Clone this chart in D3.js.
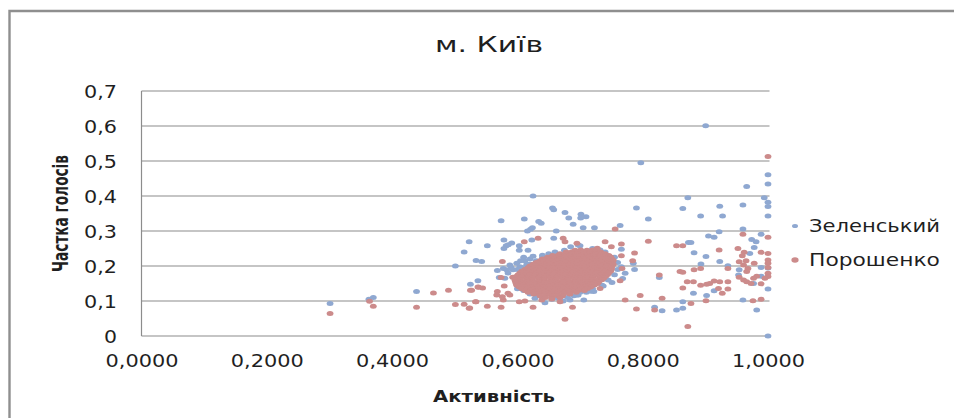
<!DOCTYPE html>
<html><head><meta charset="utf-8"><style>html,body{margin:0;background:#fff}svg{display:block}</style>
<script src="https://cdn.jsdelivr.net/npm/d3@7"></script></head><body><svg width="954" height="418"></svg>
<script>
const titleText = "м. Київ";
const xTitle = "Активність";
const yTitle = "Частка голосів";
const xTicks = [0, 0.2, 0.4, 0.6, 0.8, 1];
const xLabels = ["0,0000","0,2000","0,4000","0,6000","0,8000","1,0000"];
const yTicks = [0, 0.1, 0.2, 0.3, 0.4, 0.5, 0.6, 0.7];
const yLabels = ["0","0,1","0,2","0,3","0,4","0,5","0,6","0,7"];
const seriesNames = ["Зеленський","Порошенко"];

const zelenskyOutliers = [[.9005,.601],[.797,.495],[1,.461],[1,.434],[.966,.427],[.994,.395],[1,.382],[1,.37],[1,.343],[.872,.395],[.864,.364],[.79,.366],[.809,.334],[.8925,.343],[.923,.371],[.9275,.343],[.96,.374],[.96,.306],[.764,.316],[.723,.309],[.705,.309],[.689,.319],[.682,.337],[.676,.353],[.656,.366],[.658,.361],[.7015,.348],[.701,.337],[.7095,.341],[.625,.4],[.611,.334],[.574,.329],[.634,.327],[.638,.322],[.624,.309],[.621,.305],[.616,.3],[.662,.3],[.658,.279],[.623,.274],[.5785,.274],[.591,.266],[.5855,.261],[.582,.258],[.5785,.25],[.552,.258],[.603,.258],[.603,.245],[.617,.245],[.523,.269],[.515,.24],[.534,.216],[.543,.213],[.501,.2],[.525,.148],[.537,.158],[.439,.127],[.37,.11],[.363,.105],[.301,.093],[.64,.231],[.612,.215],[.599,.208],[.588,.203],[.5775,.193],[.568,.187],[.583,.189],[.593,.189],[.604,.198],[.571,.167],[.58,.165],[.697,.26],[.732,.246],[.766,.248],[.785,.208],[.787,.19],[.766,.198],[.772,.179],[.768,.164],[.751,.153],[.737,.143],[.722,.127],[.717,.128],[.706,.103],[.697,.117],[.8265,.167],[.819,.082],[.831,.072],[.854,.074],[.989,.291],[.922,.298],[.905,.286],[.914,.282],[.974,.276],[.981,.269],[.978,.253],[.873,.267],[.877,.267],[.882,.238],[.901,.227],[.971,.236],[.923,.213],[.893,.206],[.936,.201],[.954,.189],[.953,.174],[.989,.196],[1,.194],[.989,.171],[.977,.15],[1,.134],[.914,.129],[.902,.116],[.881,.122],[.96,.103],[.864,.098],[.864,.079],[.982,.074],[1,0],[.644,.095],[.673,.1],[.628,.108],[.684,.103],[.695,.117]];
const zelenskyCluster = [[.61,.225],[.62,.22],[.63,.215],[.615,.205],[.605,.215],[.625,.228],[.64,.225],[.65,.235],[.66,.24],[.675,.245],[.59,.195],[.6,.19],[.585,.18],[.61,.195],[.62,.205],[.63,.115],[.64,.11],[.655,.105],[.665,.108],[.68,.11],[.69,.115],[.7,.125],[.71,.125],[.72,.135],[.735,.145],[.745,.16],[.755,.175],[.76,.19],[.76,.21],[.755,.225],[.74,.24],[.72,.25],[.7,.258],[.685,.255],[.61,.13],[.6,.135],[.62,.12],[.65,.2],[.67,.18],[.69,.19],[.71,.2],[.68,.15],[.66,.16],[.64,.17],[.72,.18],[.7,.22]];
const poroshenkoOutliers = [[1,.513],[.301,.064],[.37,.085],[.364,.099],[.439,.082],[.466,.123],[.49,.131],[.525,.131],[.537,.14],[.534,.098],[.501,.09],[.515,.091],[.523,.079],[.633,.279],[.611,.269],[.673,.279],[.676,.269],[.695,.265],[.576,.213],[.574,.167],[.5925,.168],[.579,.143],[.527,.131],[.538,.139],[.5445,.137],[.568,.127],[.567,.117],[.5775,.103],[.576,.112],[.588,.117],[.585,.122],[.533,.098],[.552,.085],[.574,.082],[.524,.08],[.603,.098],[.612,.1],[.625,.082],[.668,.098],[.688,.082],[.676,.048],[.639,.103],[.756,.306],[.74,.269],[.766,.263],[.75,.255],[.7275,.251],[.809,.271],[.854,.258],[.787,.237],[.766,.229],[.784,.215],[.767,.193],[.764,.158],[.732,.136],[.8265,.174],[.772,.103],[.796,.116],[.831,.108],[.79,.077],[.819,.074],[.8595,.184],[.96,.291],[1,.282],[.864,.258],[.922,.246],[.952,.25],[.962,.239],[.959,.229],[.989,.239],[1,.236],[1,.217],[1,.208],[1,.196],[.954,.212],[.965,.215],[.978,.208],[.961,.203],[.968,.193],[.966,.184],[.936,.193],[.8925,.193],[.882,.189],[.864,.182],[1,.179],[1,.17],[.995,.165],[.982,.171],[.977,.165],[.954,.168],[.961,.16],[.966,.155],[.973,.15],[.989,.149],[.871,.155],[.881,.155],[.8925,.145],[.902,.148],[.914,.157],[.923,.155],[.936,.155],[.907,.15],[.921,.136],[.936,.134],[.927,.122],[.864,.137],[.901,.101],[.877,.093],[.976,.101],[.989,.105],[.872,.027]];
const poroshenkoCluster = [
[.692,.245],[.701,.246],[.711,.245],[.72,.246],[.728,.245],
[.678,.24],[.687,.241],[.697,.24],[.706,.241],[.716,.24],[.725,.241],[.733,.24],
[.668,.235],[.677,.236],[.687,.235],[.696,.236],[.706,.235],[.715,.236],[.725,.235],[.734,.236],[.74,.235],
[.656,.23],[.665,.231],[.675,.23],[.684,.231],[.694,.23],[.703,.231],[.713,.23],[.722,.231],[.732,.23],[.741,.231],[.746,.23],
[.648,.225],[.657,.226],[.667,.225],[.676,.226],[.686,.225],[.695,.226],[.705,.225],[.714,.226],[.724,.225],[.733,.226],[.743,.225],[.749,.226],
[.64,.22],[.649,.221],[.659,.22],[.668,.221],[.678,.22],[.687,.221],[.697,.22],[.706,.221],[.716,.22],[.725,.221],[.735,.22],[.744,.221],[.751,.22],
[.636,.215],[.645,.216],[.655,.215],[.664,.216],[.674,.215],[.683,.216],[.693,.215],[.702,.216],[.712,.215],[.721,.216],[.731,.215],[.74,.216],[.75,.215],[.753,.216],
[.63,.21],[.639,.211],[.649,.21],[.658,.211],[.668,.21],[.677,.211],[.687,.21],[.696,.211],[.706,.21],[.715,.211],[.725,.21],[.734,.211],[.744,.21],[.751,.211],
[.625,.205],[.634,.206],[.644,.205],[.653,.206],[.663,.205],[.672,.206],[.682,.205],[.691,.206],[.701,.205],[.71,.206],[.72,.205],[.729,.206],[.739,.205],[.748,.206],[.753,.205],
[.62,.2],[.629,.201],[.639,.2],[.648,.201],[.658,.2],[.667,.201],[.677,.2],[.686,.201],[.696,.2],[.705,.201],[.715,.2],[.724,.201],[.734,.2],[.743,.201],[.751,.2],
[.617,.195],[.626,.196],[.636,.195],[.645,.196],[.655,.195],[.664,.196],[.674,.195],[.683,.196],[.693,.195],[.702,.196],[.712,.195],[.721,.196],[.731,.195],[.74,.196],[.75,.195],
[.612,.19],[.621,.191],[.631,.19],[.64,.191],[.65,.19],[.659,.191],[.669,.19],[.678,.191],[.688,.19],[.697,.191],[.707,.19],[.716,.191],[.726,.19],[.735,.191],[.745,.19],[.75,.191],
[.607,.185],[.616,.186],[.626,.185],[.635,.186],[.645,.185],[.654,.186],[.664,.185],[.673,.186],[.683,.185],[.692,.186],[.702,.185],[.711,.186],[.721,.185],[.73,.186],[.74,.185],[.749,.186],
[.604,.18],[.613,.181],[.623,.18],[.632,.181],[.642,.18],[.651,.181],[.661,.18],[.67,.181],[.68,.18],[.689,.181],[.699,.18],[.708,.181],[.718,.18],[.727,.181],[.737,.18],[.746,.181],
[.601,.175],[.61,.176],[.62,.175],[.629,.176],[.639,.175],[.648,.176],[.658,.175],[.667,.176],[.677,.175],[.686,.176],[.696,.175],[.705,.176],[.715,.175],[.724,.176],[.734,.175],[.744,.176],
[.598,.17],[.607,.171],[.617,.17],[.626,.171],[.636,.17],[.645,.171],[.655,.17],[.664,.171],[.674,.17],[.683,.171],[.693,.17],[.702,.171],[.712,.17],[.721,.171],[.731,.17],[.741,.171],
[.596,.165],[.605,.166],[.615,.165],[.624,.166],[.634,.165],[.643,.166],[.653,.165],[.662,.166],[.672,.165],[.681,.166],[.691,.165],[.7,.166],[.71,.165],[.72,.166],[.731,.165],[.738,.166],
[.596,.16],[.605,.161],[.615,.16],[.624,.161],[.634,.16],[.643,.161],[.653,.16],[.662,.161],[.672,.16],[.681,.161],[.691,.16],[.7,.161],[.71,.16],[.719,.161],[.728,.16],[.735,.161],
[.597,.155],[.606,.156],[.616,.155],[.625,.156],[.635,.155],[.644,.156],[.654,.155],[.663,.156],[.673,.155],[.682,.156],[.692,.155],[.701,.156],[.711,.155],[.72,.156],[.73,.155],
[.598,.15],[.607,.151],[.617,.15],[.626,.151],[.636,.15],[.645,.151],[.655,.15],[.664,.151],[.674,.15],[.683,.151],[.693,.15],[.702,.151],[.712,.15],[.722,.151],[.728,.15],
[.599,.145],[.608,.146],[.618,.145],[.627,.146],[.637,.145],[.646,.146],[.656,.145],[.665,.146],[.675,.145],[.684,.146],[.694,.145],[.704,.146],[.714,.145],[.723,.146],
[.603,.14],[.612,.141],[.622,.14],[.631,.141],[.641,.14],[.65,.141],[.66,.14],[.669,.141],[.679,.14],[.688,.141],[.698,.14],[.708,.141],[.717,.14],
[.607,.135],[.616,.136],[.626,.135],[.635,.136],[.645,.135],[.654,.136],[.664,.135],[.673,.136],[.683,.135],[.692,.136],[.702,.135],[.712,.136],
[.612,.13],[.621,.131],[.631,.13],[.64,.131],[.65,.13],[.659,.131],[.669,.13],[.678,.131],[.688,.13],[.698,.131],[.707,.13],
[.617,.125],[.626,.126],[.636,.125],[.645,.126],[.655,.125],[.664,.126],[.674,.125],[.684,.126],[.694,.125],
[.626,.12],[.635,.121],[.645,.12],[.654,.121],[.664,.12],[.674,.121],[.684,.12],
[.636,.115],[.645,.116],[.655,.115],[.664,.116],[.672,.115],
[.645,.11],[.655,.111],[.668,.11],
[.655,.106]];

const blue = "#8fa8d1", red = "#cc8b8b", grey = "#8c8c8c", ink = "#1f1f1f";
const svg = d3.select("svg");
const x = d3.scaleLinear().domain([0, 1]).range([141.5, 768]);
const y = d3.scaleLinear().domain([0, 0.7]).range([336, 91]);
const sans = "'DejaVu Sans', sans-serif";
// stretch a label horizontally to a measured length, anchored at (px,py), optionally rotated
function stretch(sel, len, anchor, px, py, rot){
  sel.attr("text-anchor", anchor).attr("x",0).attr("y",0).each(function(d,i){
    const w = this.getComputedTextLength();
    const L = typeof len === "function" ? len(d,i) : len;
    d3.select(this).attr("transform", `translate(${px||0},${py||0}) rotate(${rot||0}) scale(${L/w},1)`);
  });
}

// frame
svg.append("path").attr("d","M9.5,418V11H954").attr("fill","none").attr("stroke","#8f8f8f").attr("stroke-width",2.4);

// grid and axes
svg.append("g").selectAll("line").data(yTicks).join("line")
  .attr("x1", x(0)).attr("x2", 769.5).attr("y1", d=>y(d)).attr("y2", d=>y(d))
  .attr("stroke", grey).attr("stroke-width", 1.2);
svg.append("line").attr("x1",x(0)).attr("x2",x(0)).attr("y1",y(0.7)).attr("y2",y(0)).attr("stroke",grey).attr("stroke-width",1.2);

const xAxis = d3.axisBottom(x).tickValues(xTicks).tickSize(0).tickPadding(0).tickFormat((d,i)=>xLabels[i]);
const gx = svg.append("g").attr("transform","translate(0,367)").call(xAxis);
gx.select(".domain").remove();
gx.selectAll("text").attr("dy",0).attr("font-family",sans).attr("font-size",17.5).attr("fill",ink).call(stretch,73,"middle");
const yAxis = d3.axisLeft(y).tickValues(yTicks).tickSize(0).tickPadding(0).tickFormat((d,i)=>yLabels[i]);
const gy = svg.append("g").attr("transform","translate(117,0)").call(yAxis);
gy.select(".domain").remove();
gy.selectAll("text").attr("dy","0.36em").attr("font-family",sans).attr("font-size",17.5).attr("fill",ink)
  .call(stretch,(d,i)=>yLabels[i].length>1?33:13,"end");

// marks
function dots(data, color){
  svg.append("g").selectAll("ellipse").data(data).join("ellipse")
    .attr("cx", d=>x(d[0])).attr("cy", d=>y(d[1])).attr("rx",3.4).attr("ry",2.5).attr("fill",color);
}
dots(zelenskyOutliers.concat(zelenskyCluster), blue);
dots(poroshenkoOutliers.concat(poroshenkoCluster), red);

// titles
svg.append("text").text(titleText).attr("font-family",sans).attr("font-size",22).attr("fill",ink).call(stretch,108,"middle",489,52);
svg.append("text").text(xTitle).attr("font-family",sans).attr("font-weight","bold").attr("font-size",16).attr("fill",ink).call(stretch,122,"middle",494,402);
svg.append("text").text(yTitle).attr("font-family",sans).attr("font-weight","bold").attr("font-size",22).attr("fill",ink).call(stretch,117,"middle",68,213.5,-90);

// legend
const legendY = [226, 260];
const leg = svg.append("g").selectAll("g").data(seriesNames).join("g").attr("transform",(d,i)=>`translate(0,${legendY[i]})`);
leg.append("ellipse").attr("cx",795).attr("cy",0).attr("rx",(d,i)=>i?3.6:3).attr("ry",(d,i)=>i?2.7:2).attr("fill",(d,i)=>i?red:blue);
leg.append("text").text(d=>d).attr("font-family",sans).attr("font-size",17).attr("fill",ink).call(stretch,131,"start",809,5.5);
</script></body></html>
